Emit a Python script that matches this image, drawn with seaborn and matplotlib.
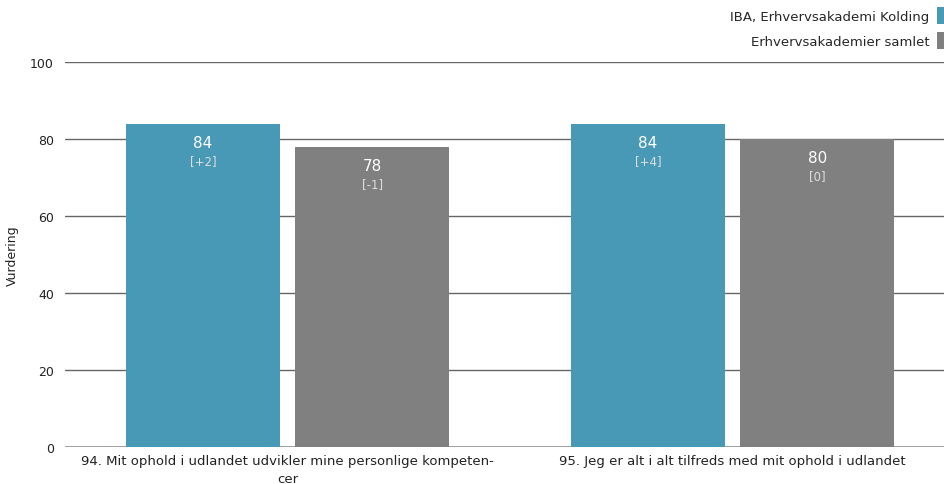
import pandas as pd
import matplotlib
matplotlib.use("Agg")
import matplotlib.pyplot as plt
import seaborn as sns
from matplotlib.patches import Patch

# data
questions = [
    "94. Mit ophold i udlandet udvikler mine personlige kompeten-\ncer",
    "95. Jeg er alt i alt tilfreds med mit ophold i udlandet",
]
groups = ["IBA, Erhvervsakademi Kolding", "Erhvervsakademier samlet"]
iba_values = [84, 84]
iba_deltas = ["[+2]", "[+4]"]
total_values = [78, 80]
total_deltas = ["[-1]", "[0]"]
colors = ["#4899b5", "#808080"]

df = pd.DataFrame({
    "question": questions * 2,
    "group": [groups[0]] * 2 + [groups[1]] * 2,
    "value": iba_values + total_values,
})

sns.set_theme(style="white")
plt.rcParams["font.family"] = ["DejaVu Sans"]

fig = plt.figure(figsize=(9.44, 4.85), dpi=100)
ax = fig.add_axes([65 / 944, 1 - 448 / 485, (944 - 65) / 944, (448 - 63) / 485])

sns.barplot(data=df, x="question", y="value", hue="group", palette=colors,
            saturation=1, width=0.76, gap=0.09, linewidth=0,
            ax=ax, legend=False, zorder=3)

ax.set_ylim(0, 100)
ax.set_xlim(-0.5, 1.475)
ax.set_yticks(range(0, 101, 20))
ax.yaxis.grid(True, color="#666666", linewidth=1.0, zorder=0)
ax.set_axisbelow(True)
for s in ax.spines.values():
    s.set_visible(False)
ax.axhline(0, color="#999999", linewidth=2, zorder=2)

ax.tick_params(axis="y", length=0, labelsize=9, pad=8, labelcolor="#222222")
ax.tick_params(axis="x", length=0, labelsize=9.5, pad=5, labelcolor="#222222")
for lbl in ax.get_xticklabels():
    lbl.set_linespacing(1.5)
ax.set_xlabel("")
ax.set_ylabel("Vurdering", fontsize=9, color="#222222", labelpad=8)

deltas = [iba_deltas, total_deltas]
for cont, dl in zip(ax.containers, deltas):
    ax.bar_label(cont, labels=[str(int(b.get_height())) for b in cont],
                 padding=-19, color="white", fontsize=11)
    ax.bar_label(cont, labels=dl, padding=-31, color="#dddddd", fontsize=8.5)

handles = [Patch(facecolor=c, edgecolor="none") for c in colors]
fig.legend(handles, groups, loc="upper right", bbox_to_anchor=(1.009, 1.0),
           markerfirst=False, frameon=False, fontsize=9.5,
           handlelength=0.55, handleheight=1.6, handletextpad=0.6,
           labelspacing=0.65, borderaxespad=0.2, alignment="right")

fig.savefig("out.png", dpi=100)
